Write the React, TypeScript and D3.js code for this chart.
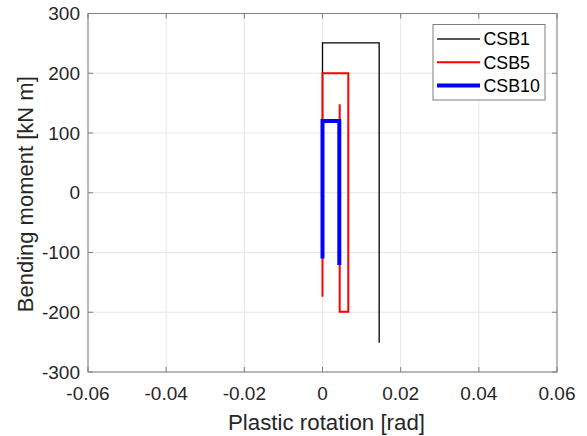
import React from "react";
import * as d3 from "d3";

const csb1X = [0, 0, 0.0145, 0.0145];
const csb1Y = [0, 251, 251, -251];
const csb5X = [0, 0, 0.0066, 0.0066, 0.0044, 0.0044];
const csb5Y = [-174, 200, 200, -199, -199, 148];
const csb10X = [0, 0, 0.0043, 0.0043];
const csb10Y = [-110, 120, 120, -121];
const xTicks = [-0.06, -0.04, -0.02, 0, 0.02, 0.04, 0.06];
const yTicks = [-300, -200, -100, 0, 100, 200, 300];
const seriesNames = ["CSB1", "CSB5", "CSB10"];

const W = 587, H = 436;
const L = 88, R = 557, T = 13.5, B = 372;
const FONT = "'Liberation Sans', Arial, Helvetica, sans-serif";
const TXT = "#262626";
const AX = "#7f7f7f";

export default function App() {
  const x = d3.scaleLinear().domain([-0.06, 0.06]).range([L, R]);
  const y = d3.scaleLinear().domain([-300, 300]).range([B, T]);
  const line = d3.line<[number, number]>().x(d => x(d[0])).y(d => y(d[1]));
  const mk = (xs: number[], ys: number[]) => xs.map((v, i) => [v, ys[i]] as [number, number]);
  const series = [
    { name: seriesNames[0], pts: mk(csb1X, csb1Y), color: "#000000", w: 1.3, lw: 2.2, lc: "#555" },
    { name: seriesNames[1], pts: mk(csb5X, csb5Y), color: "#ff0000", w: 2, lw: 2, lc: "#ff0000" },
    { name: seriesNames[2], pts: mk(csb10X, csb10Y), color: "#0000ff", w: 4, lw: 4, lc: "#0000ff" },
  ];
  const tl = 5;
  return (
    <svg width={W} height={H} style={{ position: "absolute", left: 0, top: 0, background: "#fff" }}>
      <rect x={0} y={0} width={W} height={H} fill="#fff" />
      {xTicks.map(t => (
        <line key={"gx" + t} x1={x(t)} x2={x(t)} y1={T} y2={B} stroke="#e6e6e6" strokeWidth={1} />
      ))}
      {yTicks.map(t => (
        <line key={"gy" + t} x1={L} x2={R} y1={y(t)} y2={y(t)} stroke="#e6e6e6" strokeWidth={1} />
      ))}
      {series.map(s => (
        <path key={s.name} d={line(s.pts) || ""} fill="none" stroke={s.color} strokeWidth={s.w} strokeLinejoin="miter" />
      ))}
      <rect x={L} y={T} width={R - L} height={B - T} fill="none" stroke={AX} strokeWidth={1} />
      {xTicks.map(t => (
        <g key={"tx" + t}>
          <line x1={x(t)} x2={x(t)} y1={B} y2={B - tl} stroke={AX} />
          <line x1={x(t)} x2={x(t)} y1={T} y2={T + tl} stroke={AX} />
          <text x={x(t)} y={400} textAnchor="middle" fontFamily={FONT} fontSize={19} fill={TXT}>{t === 0 ? "0" : String(t)}</text>
        </g>
      ))}
      {yTicks.map(t => (
        <g key={"ty" + t}>
          <line x1={L} x2={L + tl} y1={y(t)} y2={y(t)} stroke={AX} />
          <line x1={R} x2={R - tl} y1={y(t)} y2={y(t)} stroke={AX} />
          <text x={80} y={y(t) + 6.5} textAnchor="end" fontFamily={FONT} fontSize={19} fill={TXT}>{String(t)}</text>
        </g>
      ))}
      <text x={(L + R) / 2 + 4} y={430} textAnchor="middle" fontFamily={FONT} fontSize={22.3} fill={TXT}>Plastic rotation [rad]</text>
      <text transform={`translate(32.5,${(T + B) / 2 + 1.5}) rotate(-90)`} textAnchor="middle" fontFamily={FONT} fontSize={22} fill={TXT}>Bending moment [kN m]</text>
      <rect x={433} y={24.5} width={112} height={75.5} fill="#fff" stroke={AX} strokeWidth={1} />
      {series.map((s, i) => (
        <g key={"lg" + s.name}>
          <line x1={437} x2={480} y1={39 + i * 23.3} y2={39 + i * 23.3} stroke={s.lc} strokeWidth={s.lw} />
          <text x={483.5} y={39 + i * 23.3 + 6.2} fontFamily={FONT} fontSize={17.8} fill="#000">{s.name}</text>
        </g>
      ))}
    </svg>
  );
}
